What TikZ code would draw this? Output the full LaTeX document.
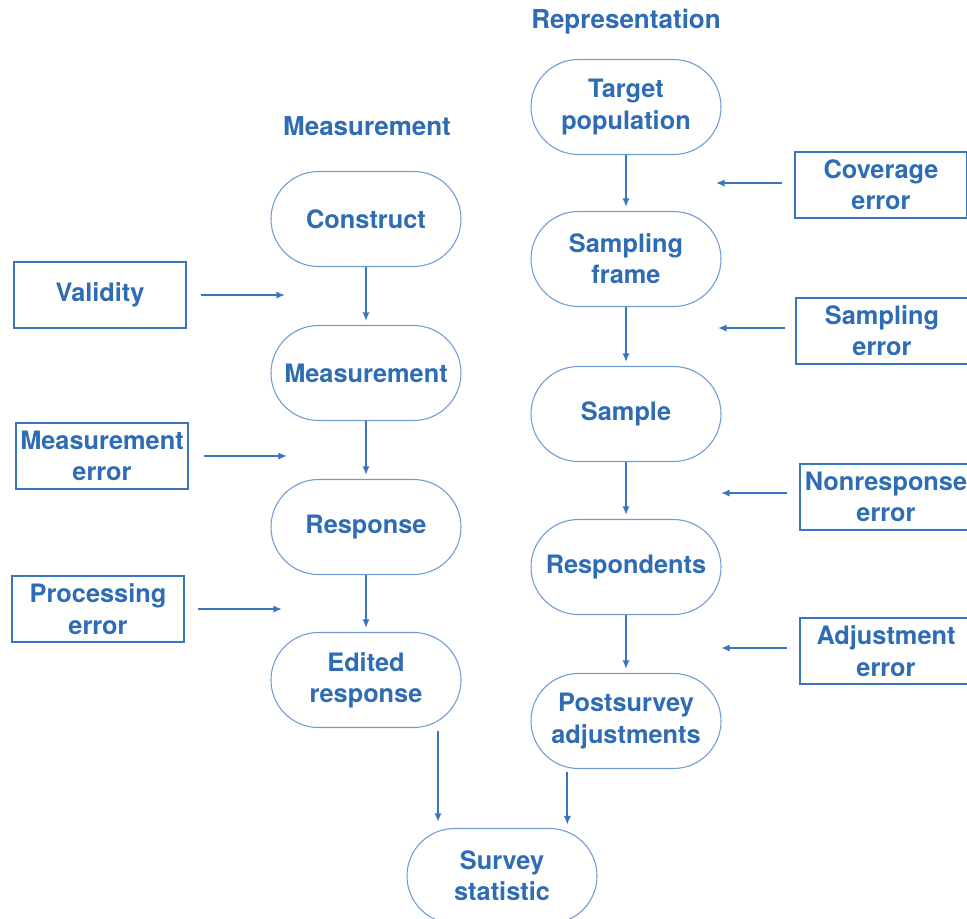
\documentclass[tikz,border=0pt]{standalone}
\usepackage{fontspec}
\setmainfont{TeX Gyre Heros}
\usetikzlibrary{arrows.meta}
\definecolor{txtblue}{RGB}{46,108,180}
\definecolor{stadline}{RGB}{112,156,212}
\definecolor{boxline}{RGB}{58,118,190}
\begin{document}
\begin{tikzpicture}[x=0.75pt,y=-0.75pt,
  every node/.style={font=\bfseries\fontsize{19}{23.5}\selectfont, text=txtblue, align=center},
  stadium/.style={draw=stadline, line width=0.8pt, rectangle, rounded corners=35.6pt,
    minimum width=142.5pt, minimum height=71.25pt, inner sep=0pt},
  errbox/.style={draw=boxline, line width=1.3pt, rectangle,
    minimum width=129pt, minimum height=49.5pt, inner sep=0pt},
  title/.style={font=\bfseries\fontsize{19.5}{23}\selectfont},
  arr/.style={draw=boxline, line width=1.3pt, -{Latex[length=6.5pt,width=5.5pt]}}
]
\useasboundingbox (0,0) rectangle (967,918);
\clip (0,0) rectangle (967,918);
\fill[white] (0,0) rectangle (967,918);

% titles
\node[title] (tmeas) at (367,126) {Measurement};
\node[title] (trep) at (626,22) {Representation};

% measurement column
\node[stadium] (construct) at (366,219) {Construct};
\node[stadium] (measurement) at (366,373) {Measurement};
\node[stadium] (response) at (366,527) {Response};
\node[stadium] (edited) at (366,680) {Edited\\response};

% representation column
\node[stadium] (target) at (626,107) {Target\\population};
\node[stadium] (frame) at (626,259) {Sampling\\frame};
\node[stadium] (sample) at (626,414) {Sample};
\node[stadium] (respondents) at (626,567) {Respondents};
\node[stadium] (postsurvey) at (626,721) {Postsurvey\\adjustments};

\node[stadium] (survey) at (502,876) {Survey\\statistic};

% error boxes left
\node[errbox] (validity) at (100,295) {Validity};
\node[errbox] (merror) at (102,456) {Measurement\\error};
\node[errbox] (perror) at (98,609) {Processing\\error};

% error boxes right
\node[errbox] (cerror) at (881,185) {Coverage\\error};
\node[errbox] (serror) at (882,331) {Sampling\\error};
\node[errbox] (nerror) at (886,497) {Nonresponse\\error};
\node[errbox] (aerror) at (886,651) {Adjustment\\error};

% free-end coordinates of horizontal arrows
\coordinate (cv) at (285,295);
\coordinate (cm) at (287,456);
\coordinate (cp) at (282,609);
\coordinate (cc) at (716,183);
\coordinate (cs) at (718,328);
\coordinate (cn) at (721,493);
\coordinate (ca) at (721,648);

\draw[arr] ([xshift=10.5pt]validity.east) -- (cv);
\draw[arr] ([xshift=11pt]merror.east) -- (cm);
\draw[arr] ([xshift=10pt]perror.east) -- (cp);
\draw[arr] ([xshift=-9pt,yshift=1.5pt]cerror.west) -- (cc);
\draw[arr] ([xshift=-7.5pt,yshift=2.25pt]serror.west) -- (cs);
\draw[arr] ([xshift=-9pt,yshift=3pt]nerror.west) -- (cn);
\draw[arr] ([xshift=-9pt,yshift=2.25pt]aerror.west) -- (ca);

% vertical arrows
\draw[arr, shorten >=3pt] (construct.south) -- (measurement.north);
\draw[arr, shorten >=3pt] (measurement.south) -- (response.north);
\draw[arr, shorten >=3pt] (response.south) -- (edited.north);
\draw[arr, shorten >=3pt] (target.south) -- (frame.north);
\draw[arr, shorten >=3pt] (frame.south) -- (sample.north);
\draw[arr, shorten >=3pt] (sample.south) -- (respondents.north);
\draw[arr, shorten >=3pt] (respondents.south) -- (postsurvey.north);

\draw[arr, shorten <=2pt, shorten >=4.5pt] ([xshift=54pt]edited.south) -- ([xshift=54pt]edited.south |- survey.north);
\draw[arr, shorten <=2pt, shorten >=2.5pt] ([xshift=-44pt]postsurvey.south) -- ([xshift=-44pt]postsurvey.south |- survey.north);
\end{tikzpicture}
\end{document}
